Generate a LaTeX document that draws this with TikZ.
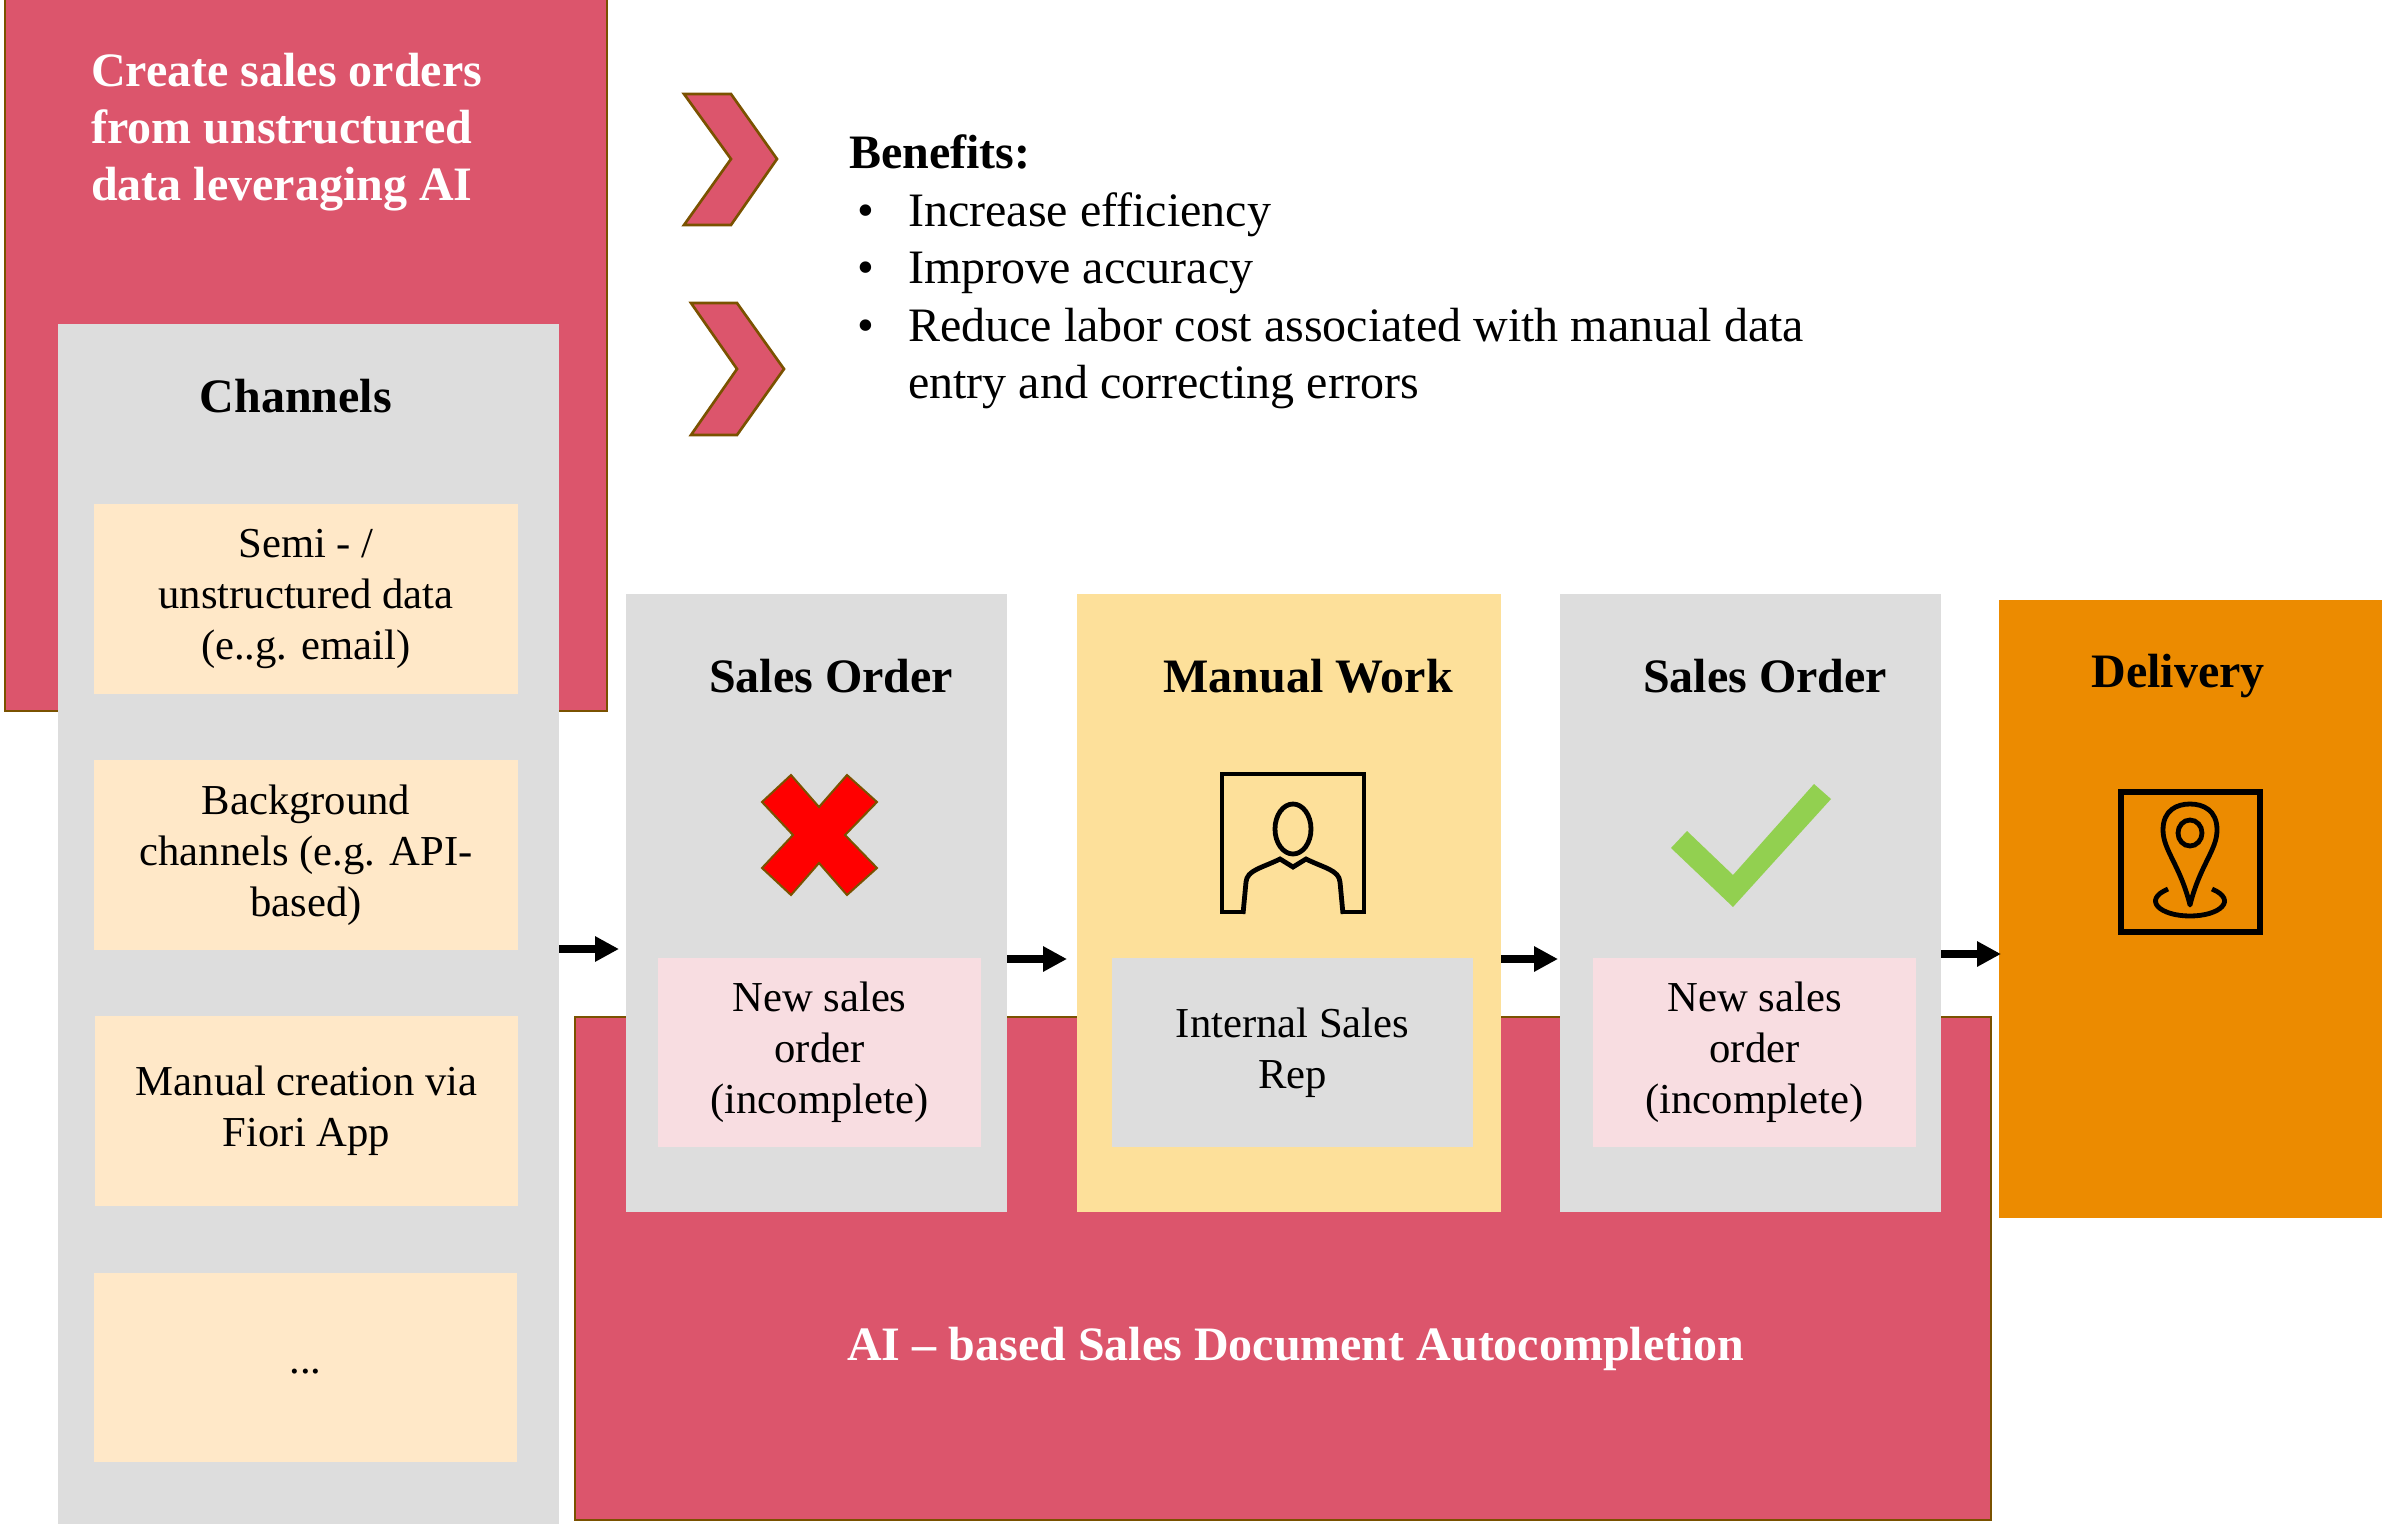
\documentclass[tikz,border=0pt]{standalone}
\usepackage{fontspec}
\setmainfont{Liberation Serif}
\usetikzlibrary{arrows.meta}
\definecolor{rosered}{HTML}{DC556C}
\definecolor{olivebrown}{HTML}{7A5200}
\definecolor{panelgrey}{HTML}{DDDDDD}
\definecolor{paleorange}{HTML}{FFE8C8}
\definecolor{paleyellow}{HTML}{FDE09A}
\definecolor{palepink}{HTML}{F8DDE1}
\definecolor{deeporange}{HTML}{EC8B00}
\definecolor{tickgreen}{HTML}{92D050}
\tikzset{
	box/.style n args={3}{anchor=north west,inner sep=0pt,outer sep=0pt,fill=#1,minimum width=#2*0.75pt,minimum height=#3*0.75pt,align=center},
	edged/.style={draw=olivebrown,line width=2pt},
	title/.style={inner sep=0pt,font=\fontsize{36}{42}\selectfont\bfseries},
	body/.style={font=\fontsize{32}{38.2}\selectfont},
	flow/.style={line width=6.4pt,-{Triangle[length=18pt,width=18pt]}},
	glyph/.style={line width=3.6pt,line join=miter},
}
\begin{document}
\begin{tikzpicture}[x=0.75pt,y=0.75pt,yscale=-1,xscale=1]
	\useasboundingbox (0,0) rectangle (2382,1524);
	
	%Shape: Rectangle [top band]
	\node (aiband) at (5,-6) [box={rosered}{602}{717},edged] {};
	%Shape: Rectangle [bottom band]
	\node (autoband) at (575,1017) [box={rosered}{1416}{503},edged] {};
	
	%Shape: Chevron
	\draw [fill=rosered,edged] (684,94) -- (731,94) -- (777,159) -- (731,225) -- (684,225) -- (731,159) -- cycle;
	%Shape: Chevron
	\draw [fill=rosered,edged] (691,303) -- (737,303) -- (784,369) -- (737,435) -- (691,435) -- (737,369) -- cycle;
	
	%Shape: Rectangle [channel column]
	\node (channels) at (58,324) [box={panelgrey}{501}{1200}] {};
	\node (semi) at (94,504) [box={paleorange}{424}{190},body] {Semi - /\\unstructured data\\(e..g. email)};
	\node (background) at (94,760) [box={paleorange}{424}{190},body] {Background\\channels (e.g. API-\\based)};
	\node (manualfiori) at (95,1016) [box={paleorange}{423}{190},body] {Manual creation via\\Fiori App};
	\node (etc) at (94,1273) [box={paleorange}{423}{189},body] {\raisebox{-9pt}{...}};
	
	%Shape: Rectangle [process steps]
	\node (orderbad) at (626,594) [box={panelgrey}{381}{618}] {};
	\node (manualwork) at (1077,594) [box={paleyellow}{424}{618}] {};
	\node (ordergood) at (1560,594) [box={panelgrey}{381}{618}] {};
	\node (delivery) at (1999,600) [box={deeporange}{383}{618}] {};
	
	\node (newbad) at (658,958) [box={palepink}{323}{189},body] {New sales\\order\\(incomplete)};
	\node (salesrep) at (1112,958) [box={panelgrey}{361}{189},body] {Internal Sales\\Rep};
	\node (newgood) at (1593,958) [box={palepink}{323}{189},body] {New sales\\order\\(incomplete)};
	
	% Arrow ends
	\coordinate (in1) at (channels.east |- 0,949);
	\coordinate (out1) at (619,949);
	\coordinate (in2) at (orderbad.east |- 0,959);
	\coordinate (out2) at (1067,959);
	\coordinate (in3) at (manualwork.east |- 0,959);
	\coordinate (out3) at (1558,959);
	\coordinate (in4) at (ordergood.east |- 0,954);
	\coordinate (out4) at (2001,954);
	\draw [flow] (in1) -- (out1);
	\draw [flow] (in2) -- (out2);
	\draw [flow] (in3) -- (out3);
	\draw [flow] (in4) -- (out4);
	
	%Shape: Cross
	\draw [fill=red,draw=olivebrown,line width=1.5pt] (791,775) -- (819,807) -- (847,775) -- (877,802) -- (845,835) -- (877,868) -- (847,895) -- (819,863) -- (791,895) -- (762,868) -- (793,835) -- (762,802) -- cycle;
	%Shape: Tick
	\fill [tickgreen] (1671,848) -- (1687,831) -- (1733,875) -- (1814,784) -- (1831,799) -- (1733,907) -- cycle;
	
	%Shape: Person icon
	\draw [glyph] (1243,912) -- (1222,912) -- (1222,774) -- (1364,774) -- (1364,912) -- (1343,912);
	\draw [glyph] (1293,829) ellipse (18 and 25);
	\draw [glyph] (1243,914) -- (1246,882) .. controls (1247,870) and (1262,868) .. (1280,859) -- (1293,867) -- (1306,859) .. controls (1324,868) and (1339,870) .. (1340,882) -- (1343,914);
	
	%Shape: Map icon
	\draw [line width=4.4pt] (2121,792) rectangle (2260,932);
	\draw [glyph,line join=round] (2190,905) .. controls (2180,865) and (2163,850) .. (2163,830) .. controls (2163,810) and (2177,804) .. (2190,804) .. controls (2203,804) and (2217,810) .. (2217,830) .. controls (2217,850) and (2200,865) .. (2190,905) -- cycle;
	\draw [glyph] (2190,833) ellipse (12 and 13);
	\draw [glyph] (2168,889) .. controls (2142,900) and (2160,916) .. (2190,916) .. controls (2220,916) and (2238,900) .. (2212,889);
	
	% Text Node
	\node (aititle) at (91,132) [anchor=west,inner sep=0pt,align=left,text=white,font=\fontsize{36}{42.6}\selectfont\bfseries] {Create sales orders\\from unstructured\\data leveraging AI};
	% Text Node
	\node (benefits) at (849,272) [anchor=west,inner sep=0pt,align=left,font=\fontsize{36}{43.2}\selectfont] {\textbf{Benefits:}\\\makebox[44.25pt][l]{\hspace{6pt}•}Increase efficiency\\\makebox[44.25pt][l]{\hspace{6pt}•}Improve accuracy\\\makebox[44.25pt][l]{\hspace{6pt}•}Reduce labor cost associated with manual data\\\makebox[44.25pt][l]{}entry and correcting errors};
	% Text Node
	\node (channelstitle) at (296,396) [title] {Channels};
	% Text Node
	\node (ordertitlebad) at (831,676) [title] {Sales Order};
	% Text Node
	\node (manualtitle) at (1308,676) [title] {Manual Work};
	% Text Node
	\node (ordertitlegood) at (1765,676) [title] {Sales Order};
	% Text Node
	\node (deliverytitle) at (2178,676) [title] {Delivery};
	% Text Node
	\node (autotitle) at (1296,1349) [title,text=white] {AI -- based Sales Document Autocompletion};
\end{tikzpicture}
\end{document}
